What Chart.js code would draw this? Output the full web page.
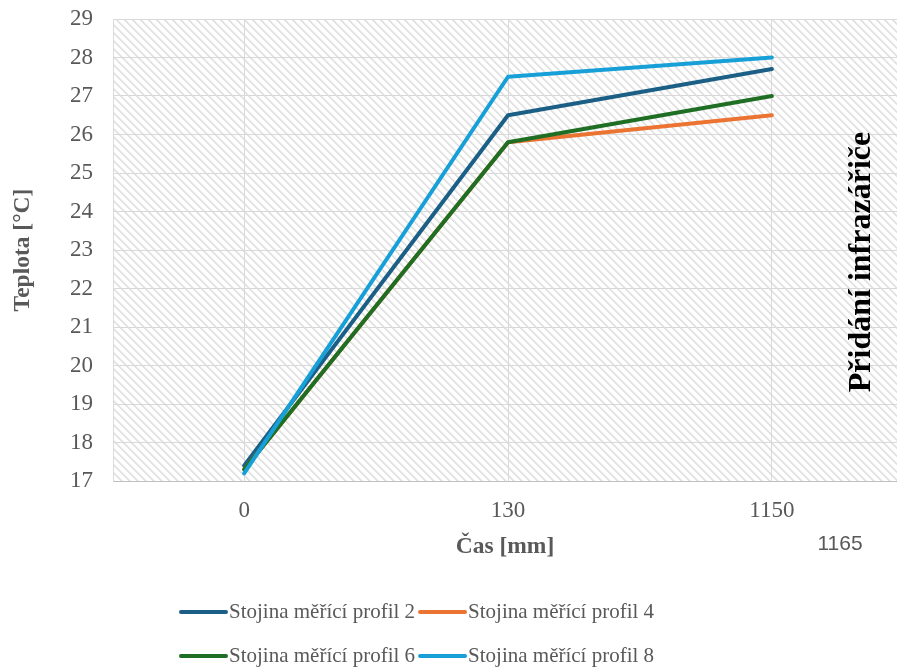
<!DOCTYPE html>
<html>
<head>
<meta charset="utf-8">
<script src="https://cdn.jsdelivr.net/npm/chart.js@4/dist/chart.umd.min.js"></script>
<style>
html,body{margin:0;padding:0;background:#fff;}
#wrap{position:relative;width:897px;height:671px;}
</style>
</head>
<body>
<div id="wrap"><canvas id="c" width="897" height="671"></canvas></div>
<script>
const categories = ['0', '130', '1150'];
const seriesNames = ['Stojina měřící profil 2', 'Stojina měřící profil 4', 'Stojina měřící profil 6', 'Stojina měřící profil 8'];
const profil2 = [17.4, 26.5, 27.7];
const profil4 = [17.3, 25.8, 26.5];
const profil6 = [17.3, 25.8, 27.0];
const profil8 = [17.2, 27.5, 28.0];
const seriesColors = ['#1b5f86', '#ec7433', '#1e6e23', '#17a0d8'];
const yTicks = [17,18,19,20,21,22,23,24,25,26,27,28,29];
const annotationText = 'Přidání infrazářiče';
const strayLabel = '1165';

const allSeries = [profil2, profil4, profil6, profil8];

function makePattern(ctx){
  const p = document.createElement('canvas');
  p.width = 8; p.height = 8;
  const pc = p.getContext('2d');
  pc.fillStyle = '#ffffff';
  pc.fillRect(0,0,8,8);
  for(let y=0;y<8;y++){
    for(let x=0;x<8;x++){
      const d = ((x - y) % 8 + 8) % 8;
      if(d===0 || d===1){ pc.fillStyle = '#e2e2e2'; pc.fillRect(x,y,1,1); }
      else if(d===2){ pc.fillStyle = '#f0f0f0'; pc.fillRect(x,y,1,1); }
    }
  }
  return ctx.createPattern(p,'repeat');
}

const bgPlugin = {
  id:'hatch',
  beforeDraw(chart){
    const {ctx, chartArea:a} = chart;
    ctx.save();
    ctx.fillStyle = makePattern(ctx);
    ctx.fillRect(a.left, a.top, a.right-a.left, a.bottom-a.top);
    ctx.restore();
  }
};

const extraPlugin = {
  id:'extra',
  afterDraw(chart){
    const ctx = chart.ctx;
    ctx.save();
    ctx.translate(862, 262);
    ctx.rotate(-Math.PI/2);
    ctx.fillStyle = '#000000';
    ctx.font = 'bold 32px "Liberation Serif"';
    ctx.textAlign = 'center';
    ctx.textBaseline = 'middle';
    ctx.fillText(annotationText, 0, 0);
    ctx.restore();

    ctx.save();
    ctx.fillStyle = '#595959';
    ctx.font = '21px "Liberation Sans"';
    ctx.textAlign = 'center';
    ctx.textBaseline = 'middle';
    ctx.fillText(strayLabel, 840, 544);
    ctx.restore();

    ctx.save();
    ctx.font = '21px "Liberation Serif"';
    ctx.textBaseline = 'middle';
    ctx.textAlign = 'left';
    const rows = [[0,1],[2,3]];
    const rowY = [612, 656];
    rows.forEach((r, ri) => {
      let x = 181;
      r.forEach(i => {
        const ds = chart.data.datasets[i];
        ctx.strokeStyle = ds.borderColor;
        ctx.lineWidth = 4;
        ctx.lineCap = 'round';
        ctx.beginPath();
        ctx.moveTo(x, rowY[ri]);
        ctx.lineTo(x+45, rowY[ri]);
        ctx.stroke();
        ctx.fillStyle = '#595959';
        ctx.fillText(ds.label, x+48, rowY[ri]);
        x += 48 + ctx.measureText(ds.label).width + 5;
      });
    });
    ctx.restore();
  }
};

const datasets = allSeries.map((s, i) => ({
  label: seriesNames[i],
  data: s.map((v, j) => ({x: j, y: v})),
  borderColor: seriesColors[i],
  backgroundColor: seriesColors[i],
  borderWidth: 4,
  pointRadius: 0,
  tension: 0,
  fill: false,
  borderCapStyle: 'round',
  borderJoinStyle: 'round',
  order: 4 - i
}));

new Chart(document.getElementById('c'), {
  type: 'line',
  data: { datasets },
  plugins: [bgPlugin, extraPlugin],
  options: {
    responsive: false,
    animation: false,
    layout: { padding: { left: 5, top: 19, right: 0, bottom: 106 } },
    plugins: { legend: { display: false }, tooltip: { enabled: false } },
    scales: {
      x: {
        type: 'linear',
        min: -0.497,
        max: 2.474,
        afterBuildTicks(scale){ scale.ticks = categories.map((c, i) => ({value: i})); },
        afterFit(scale){ scale.height = 84; scale.paddingLeft = 0; scale.paddingRight = 0; },
        ticks: {
          callback: (v) => categories[v],
          color: '#595959',
          font: { family: 'Liberation Serif', size: 23 },
          padding: 16,
          maxRotation: 0
        },
        grid: { color: '#d9d9d9', lineWidth: 1, drawTicks: false },
        border: { color: '#bfbfbf', width: 1 },
        title: {
          display: true,
          text: 'Čas [mm]',
          color: '#595959',
          font: { family: 'Liberation Serif', size: 23.5, weight: 'bold' },
          padding: { top: 4, bottom: 4 }
        }
      },
      y: {
        type: 'linear',
        min: 17,
        max: 29,
        afterBuildTicks(scale){ scale.ticks = yTicks.map(v => ({value: v})); },
        afterFit(scale){ scale.width = 108; scale.paddingTop = 0; scale.paddingBottom = 0; },
        ticks: {
          color: '#595959',
          font: { family: 'Liberation Serif', size: 23 },
          padding: 20
        },
        grid: { color: '#d9d9d9', lineWidth: 1, drawTicks: false },
        border: { color: '#d9d9d9', width: 1 },
        title: {
          display: true,
          text: 'Teplota [°C]',
          color: '#595959',
          font: { family: 'Liberation Serif', size: 23.5, weight: 'bold' },
          padding: { top: 4, bottom: 4 }
        }
      }
    }
  }
});
</script>
</body>
</html>
